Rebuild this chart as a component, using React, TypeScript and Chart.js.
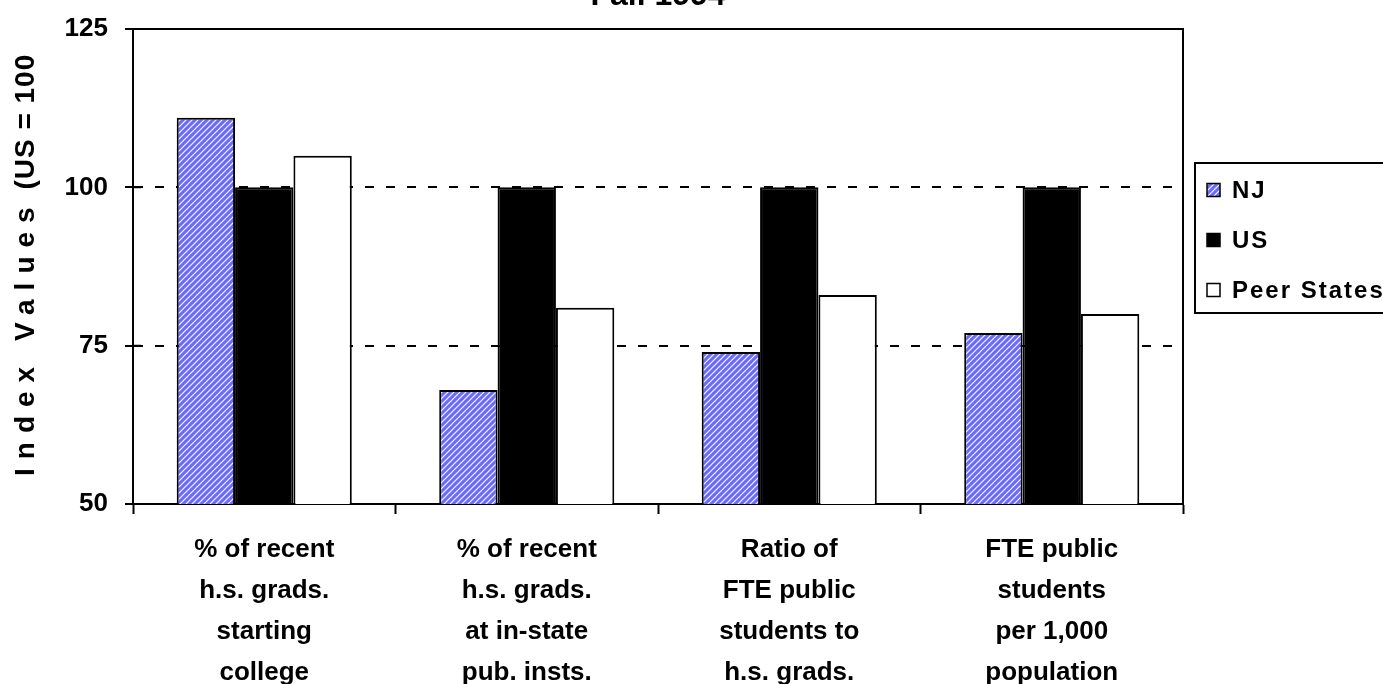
import { useEffect, useRef } from "react";
import { Chart, registerables } from "chart.js";

Chart.register(...registerables);

// Category labels, one line per array entry
const categories: string[][] = [
  ["% of recent", "h.s. grads.", "starting", "college"],
  ["% of recent", "h.s. grads.", "at in-state", "pub. insts."],
  ["Ratio of", "FTE public", "students to", "h.s. grads."],
  ["FTE public", "students", "per 1,000", "population"],
];

const seriesNames = ["NJ", "US", "Peer States"];
const njValues = [111, 68, 74, 77];
const usValues = [100, 100, 100, 100];
const peerValues = [105, 81, 83, 80];

const yMin = 50;
const yMax = 125;
const yStep = 25;
const dashedLevels = [75, 100];

const chartTitle = "Fall 1994";
const yTitleMain = "Index Values";
const yTitleTail = " (US = 100)";

const FONT = '"Liberation Sans", Arial, sans-serif';

function makeHatch(): CanvasPattern {
  const tile = document.createElement("canvas");
  tile.width = 6;
  tile.height = 6;
  const g = tile.getContext("2d")!;
  g.fillStyle = "#6c6cf0";
  g.fillRect(0, 0, 6, 6);
  g.strokeStyle = "rgba(255,255,255,0.95)";
  g.lineWidth = 1.2;
  g.beginPath();
  g.moveTo(0, 6);
  g.lineTo(6, 0);
  g.moveTo(-1, 1);
  g.lineTo(1, -1);
  g.moveTo(5, 7);
  g.lineTo(7, 5);
  g.stroke();
  return g.createPattern(tile, "repeat")!;
}

const framePlugin = {
  id: "frameAndLabels",
  afterDraw(chart: any) {
    const { ctx, chartArea } = chart;
    const { left, right, top, bottom } = chartArea;
    const yScale = chart.scales.y;

    ctx.save();
    // top and right edges of the plot box
    ctx.strokeStyle = "#000";
    ctx.lineWidth = 2;
    ctx.beginPath();
    ctx.moveTo(left, top);
    ctx.lineTo(right, top);
    ctx.lineTo(right, bottom);
    ctx.stroke();

    // inner half of the y tick marks
    ctx.beginPath();
    yScale.ticks.forEach((t: any) => {
      const py = yScale.getPixelForValue(t.value);
      ctx.moveTo(left, py);
      ctx.lineTo(left + 8, py);
    });
    ctx.stroke();

    // chart title
    ctx.fillStyle = "#000";
    ctx.font = `bold 32px ${FONT}`;
    ctx.textAlign = "center";
    ctx.textBaseline = "alphabetic";
    ctx.fillText(chartTitle, (left + right) / 2, 35);
    ctx.restore();

    // rotated y-axis title, cut off where the frame starts
    ctx.save();
    ctx.beginPath();
    ctx.rect(0, 84, 120, chart.height - 84);
    ctx.clip();
    ctx.translate(26, 506);
    ctx.rotate(-Math.PI / 2);
    ctx.fillStyle = "#000";
    ctx.font = `bold 28px ${FONT}`;
    ctx.textAlign = "left";
    ctx.textBaseline = "middle";
    ctx.letterSpacing = "9px";
    ctx.fillText(yTitleMain, 0, 0);
    const w = ctx.measureText(yTitleMain).width;
    ctx.letterSpacing = "1px";
    ctx.fillText(yTitleTail, w, 0);
    ctx.restore();

    // legend box
    const bx = 1195;
    const by = 193;
    const bw = 230;
    const bh = 150;
    ctx.save();
    ctx.fillStyle = "#fff";
    ctx.fillRect(bx, by, bw, bh);
    ctx.strokeStyle = "#000";
    ctx.lineWidth = 2;
    ctx.strokeRect(bx, by, bw, bh);
    ctx.font = `bold 24px ${FONT}`;
    ctx.textBaseline = "middle";
    ctx.textAlign = "left";
    ctx.letterSpacing = "2px";
    chart.data.datasets.forEach((ds: any, i: number) => {
      const cy = by + 27 + i * 50;
      ctx.fillStyle = ds.backgroundColor;
      ctx.fillRect(bx + 12, cy - 6.5, 13, 13);
      ctx.lineWidth = 1.5;
      ctx.strokeStyle = "#000";
      ctx.strokeRect(bx + 12, cy - 6.5, 13, 13);
      ctx.fillStyle = "#000";
      ctx.fillText(ds.label, bx + 37, cy + 1);
    });
    ctx.restore();
  },
};

export default function App() {
  const canvasRef = useRef<HTMLCanvasElement>(null);

  useEffect(() => {
    const canvas = canvasRef.current;
    if (!canvas) return;
    const hatch = makeHatch();
    const barStyle = {
      borderColor: "#000",
      borderWidth: 2,
      categoryPercentage: 0.667,
      barPercentage: 1,
    };
    const chart = new Chart(canvas, {
      type: "bar",
      data: {
        labels: categories,
        datasets: [
          { label: seriesNames[0], data: njValues, backgroundColor: hatch, ...barStyle },
          { label: seriesNames[1], data: usValues, backgroundColor: "#000", ...barStyle },
          { label: seriesNames[2], data: peerValues, backgroundColor: "#fff", ...barStyle },
        ],
      },
      options: {
        animation: false,
        responsive: false,
        layout: { padding: { top: 59, right: 237, left: 0, bottom: 0 } },
        plugins: {
          legend: { display: false },
          title: { display: false },
          tooltip: { enabled: false },
        },
        scales: {
          x: {
            offset: true,
            grid: {
              offset: true,
              drawOnChartArea: false,
              drawTicks: true,
              tickLength: 10,
              tickColor: "#000",
              tickWidth: 2,
              color: "#000",
            },
            border: { display: true, color: "#000", width: 2 },
            ticks: {
              color: "#000",
              font: { family: FONT, size: 26, weight: "bold", lineHeight: 41 / 26 },
              padding: 15,
              maxRotation: 0,
              autoSkip: false,
            },
            afterFit: (s: any) => {
              s.height = 180;
            },
          },
          y: {
            min: yMin,
            max: yMax,
            ticks: {
              stepSize: yStep,
              color: "#000",
              font: { family: FONT, size: 26, weight: "bold" },
              padding: 17,
            },
            grid: {
              color: (c: any) =>
                c.tick && dashedLevels.includes(c.tick.value) ? "#000" : "rgba(0,0,0,0)",
              lineWidth: 2,
              tickLength: 8,
              tickColor: "#000",
              tickWidth: 2,
            },
            border: { display: true, color: "#000", width: 2, dash: [9, 12] },
            afterFit: (s: any) => {
              s.width = 133;
            },
          },
        },
      },
      plugins: [framePlugin],
    } as any);
    return () => chart.destroy();
  }, []);

  return (
    <div
      style={{
        position: "fixed",
        left: 0,
        top: 0,
        width: 1383,
        height: 684,
        overflow: "hidden",
        background: "#fff",
      }}
    >
      <canvas
        ref={canvasRef}
        width={1420}
        height={714}
        style={{ position: "absolute", left: 0, top: -30, display: "block" }}
      />
    </div>
  );
}
